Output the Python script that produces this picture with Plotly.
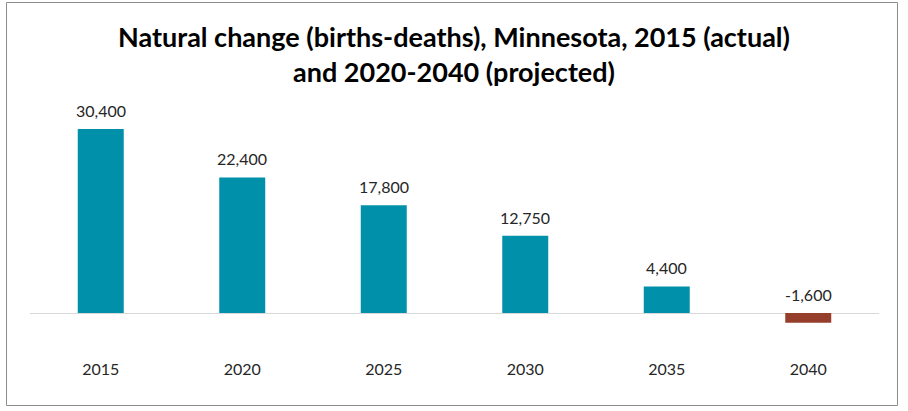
import plotly.graph_objects as go

years = ["2015", "2020", "2025", "2030", "2035", "2040"]
values = [30400, 22400, 17800, 12750, 4400, -1600]
labels = ["30,400", "22,400", "17,800", "12,750", "4,400", "-1,600"]

TEAL = "#0090A9"
BROWN = "#943E2B"
colors = [TEAL if v >= 0 else BROWN for v in values]
FONT = "Lato, Carlito, Calibri, sans-serif"

W, H = 908, 411
L, R, T, B = 30, 908 - 879, 100, 411 - 356

fig = go.Figure()
fig.add_trace(go.Bar(
    x=years, y=values, marker=dict(color=colors, line=dict(width=0)),
    width=0.325, hoverinfo="skip", showlegend=False,
))

# category axis: annotation x given as category index
annotations = [
    dict(x=i, y=max(v, 0), xref="x", yref="y", text=lab, showarrow=False,
         yanchor="bottom", yshift=7,
         font=dict(family=FONT, size=16, color="#262626"))
    for i, (v, lab) in enumerate(zip(values, labels))
]

fig.update_layout(
    width=W, height=H,
    margin=dict(l=L, r=R, t=T, b=B),
    paper_bgcolor="white", plot_bgcolor="white",
    title=dict(
        text="<b>Natural change (births-deaths), Minnesota, 2015 (actual)<br>and 2020-2040 (projected)</b>",
        x=0.5, xanchor="center", y=1 - 46.5 / H, yanchor="middle",
        font=dict(family=FONT, size=27, color="#000000"),
    ),
    xaxis=dict(
        type="category", range=[-0.5, len(years) - 0.5],
        showline=False, showgrid=False, ticks="", zeroline=False,
        tickfont=dict(family=FONT, size=16, color="#262626"),
        ticklabelstandoff=2,
    ),
    yaxis=dict(
        range=[-7100, 35190], showgrid=False, showticklabels=False, ticks="",
        zeroline=True, zerolinecolor="#D9D9D9", zerolinewidth=1, showline=False,
    ),
    annotations=annotations,
    shapes=[dict(
        type="rect", xref="paper", yref="paper",
        x0=(6.5 - L) / (W - L - R), x1=(897.5 - L) / (W - L - R),
        y0=(411 - 405.5 - B) / (H - T - B),
        y1=(411 - 2.5 - B) / (H - T - B),
        line=dict(color="#8C8C8C", width=1), fillcolor="rgba(0,0,0,0)", layer="above",
    )],
)

fig.write_html("out.html", config={"displayModeBar": False},
               post_script="document.body.style.margin='0';")
